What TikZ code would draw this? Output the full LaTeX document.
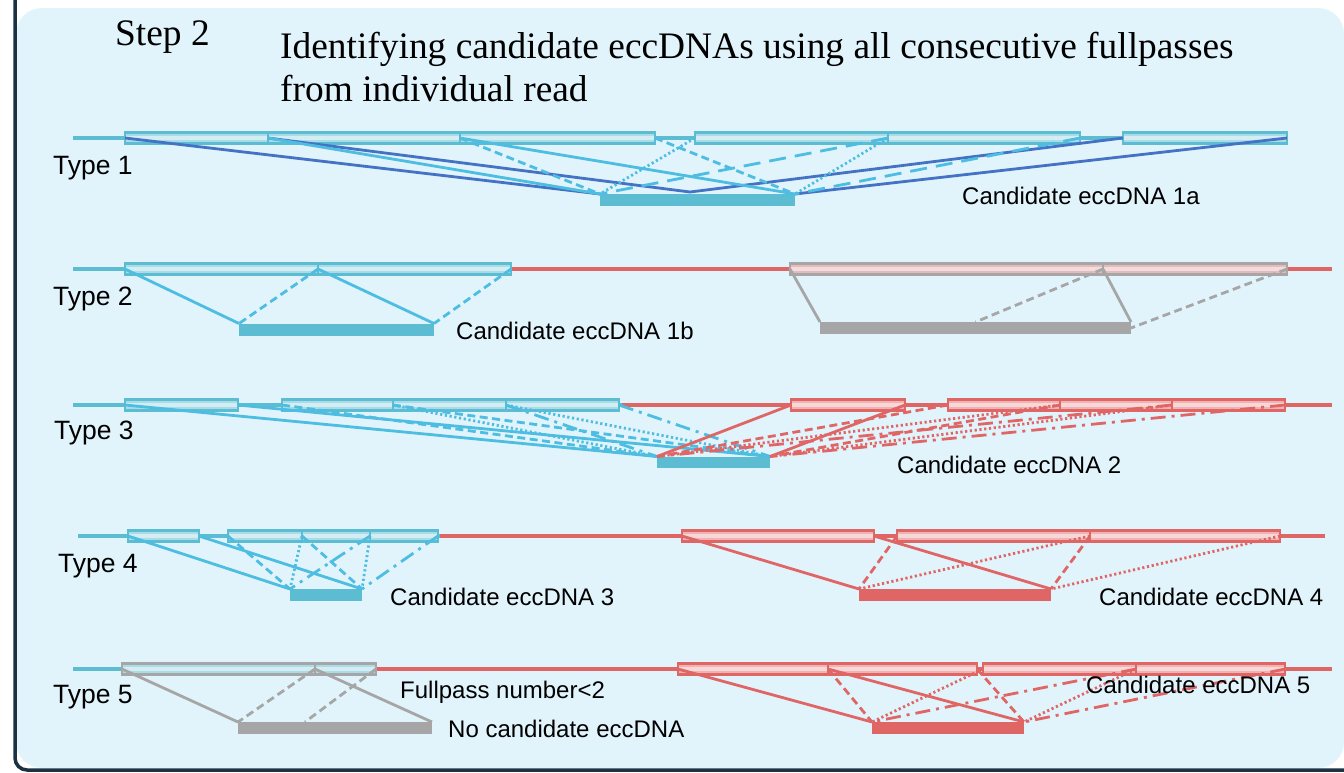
\documentclass[tikz,border=0pt]{standalone}
\usepackage{fontspec}
\setmainfont{Liberation Serif}
\newfontfamily\labelfont{Liberation Sans}
\definecolor{bgblue}{HTML}{E1F4FC}
\definecolor{framec}{HTML}{1C3142}
\definecolor{cyanc}{HTML}{5BBCD2}
\definecolor{cyanl}{HTML}{4DBDE1}
\definecolor{cyanfill}{HTML}{A8DCE8}
\definecolor{redc}{HTML}{E06666}
\definecolor{redfill}{HTML}{F0B2B2}
\definecolor{grayc}{HTML}{A6A6A6}
\definecolor{pinkgray}{HTML}{E6B9BD}
\definecolor{darkblue}{HTML}{4472C4}

\begin{document}
\begin{tikzpicture}[x=1pt,y=-1pt,
  pass/.style 2 args={draw=#1,fill=#2,line width=2.8pt,rectangle,inner sep=0pt,outer sep=0pt,minimum height=11.5pt,
    path picture={\fill[white,opacity=.5] ([yshift=-1.6pt]path picture bounding box.west) rectangle ([yshift=1.6pt]path picture bounding box.east);}},
  bar/.style={fill=#1,rectangle,inner sep=0pt,outer sep=0pt,minimum height=12pt},
  link/.style={line width=2.8pt},
  fpdash/.style={dash pattern=on 8pt off 4.5pt},
  fpdot/.style={dash pattern=on 2.2pt off 2.6pt},
  fplong/.style={dash pattern=on 17pt off 9pt},
  fpdashdot/.style={dash pattern=on 15pt off 6pt on 3pt off 6pt},
  backbone/.style={line width=3.2pt},
  typelbl/.style={font=\labelfont\fontsize{26.5}{29}\selectfont,anchor=west,inner sep=0pt},
  lbl/.style={font=\labelfont\fontsize{24}{27}\selectfont,anchor=west,inner sep=0pt}]

\useasboundingbox (0,0) rectangle (1344,772);
\fill[bgblue,rounded corners=26pt] (16,8) rectangle (1344,768);
\draw[framec,line width=3.5pt,rounded corners=12pt] (15,-5) -- (15,770) -- (1350,770);

\node[anchor=base west,inner sep=0pt,font=\fontsize{37.4}{43}\selectfont] (step) at (115,45) {Step 2};
\node[anchor=base west,inner sep=0pt,align=left,font=\fontsize{37.4}{43}\selectfont] (title) at (280,101)
  {Identifying candidate eccDNAs using all consecutive fullpasses\\from individual read};

% backbones
\draw[backbone,cyanc] (73,138) -- (1288,138);
\draw[backbone,cyanc] (73,269) -- (512,269);
\draw[backbone,redc] (512,269) -- (1332,269);
\draw[backbone,cyanc] (73,405) -- (622,405);
\draw[backbone,redc] (622,405) -- (1332,405);
\draw[backbone,cyanc] (78,536) -- (440,536);
\draw[backbone,redc] (440,536) -- (1325,536);
\draw[backbone,cyanc] (73,669) -- (122,669);
\draw[backbone,redc] (376,669) -- (1332,669);

% fullpasses
\foreach \n/\xl/\xr in {t1p1/125/268,t1p2/268/460,t1p3/460/655,t1p4/695/888,t1p5/888/1080,t1p6/1123/1287}
  \node[pass={cyanc}{cyanfill},minimum width=\xr pt-\xl pt] (\n) at ({(\xl+\xr)/2},138) {};
\foreach \n/\xl/\xr in {t2p1/125/318,t2p2/318/511}
  \node[pass={cyanc}{cyanfill},minimum width=\xr pt-\xl pt] (\n) at ({(\xl+\xr)/2},269) {};
\foreach \n/\xl/\xr in {t2g1/790/1103,t2g2/1103/1287}
  \node[pass={grayc}{pinkgray},minimum width=\xr pt-\xl pt] (\n) at ({(\xl+\xr)/2},269) {};
\foreach \n/\xl/\xr in {t3p1/125/238,t3p2/282/393,t3p3/393/506,t3p4/506/619}
  \node[pass={cyanc}{cyanfill},minimum width=\xr pt-\xl pt] (\n) at ({(\xl+\xr)/2},405) {};
\foreach \n/\xl/\xr in {t3r1/791/905,t3r2/948/1060,t3r3/1060/1172,t3r4/1172/1285}
  \node[pass={redc}{redfill},minimum width=\xr pt-\xl pt] (\n) at ({(\xl+\xr)/2},405) {};
\foreach \n/\xl/\xr in {t4p1/128/199,t4p2/228/302,t4p3/302/370,t4p4/370/438}
  \node[pass={cyanc}{cyanfill},minimum width=\xr pt-\xl pt] (\n) at ({(\xl+\xr)/2},536) {};
\foreach \n/\xl/\xr in {t4r1/682/874,t4r2/897/1090,t4r3/1090/1280}
  \node[pass={redc}{redfill},minimum width=\xr pt-\xl pt] (\n) at ({(\xl+\xr)/2},536) {};
\foreach \n/\xl/\xr in {t5g1/122/315,t5g2/315/376}
  \node[pass={grayc}{cyanfill},minimum width=\xr pt-\xl pt] (\n) at ({(\xl+\xr)/2},669) {};
\foreach \n/\xl/\xr in {t5r1/678/828,t5r2/828/977,t5r3/983/1136,t5r4/1136/1285}
  \node[pass={redc}{redfill},minimum width=\xr pt-\xl pt] (\n) at ({(\xl+\xr)/2},669) {};

% candidate eccDNAs
\node[bar=cyanc,minimum width=195pt] (t1bar) at (697.5,200) {};
\node[bar=cyanc,minimum width=195pt] (t2bar) at (336.5,329.5) {};
\node[bar=grayc,minimum width=311pt] (t2gbar) at (975.5,328) {};
\node[bar=cyanc,minimum width=113pt,minimum height=11pt] (t3bar) at (713.5,462) {};
\node[bar=cyanc,minimum width=72pt] (t4bar) at (326,595) {};
\node[bar=redc,minimum width=192pt] (t4rbar) at (955,595) {};
\node[bar=grayc,minimum width=194pt] (t5gbar) at (335,728) {};
\node[bar=redc,minimum width=152pt] (t5rbar) at (948,728) {};
\coordinate (t1v) at (690,192);
\coordinate (t5gmid) at (305,722);

% type 1
\draw[link,darkblue] (t1p1.west) -- (t1bar.north west) (t1p2.west) -- (t1v) -- (t1p6.west) (t1bar.north east) -- (t1p6.east);
\draw[link,cyanl] (t1p2.west) -- (t1bar.north west) (t1p2.east) -- (t1bar.north east);
\draw[link,cyanl,fpdash] (t1p3.west) -- (t1bar.north west) (t1p3.east) -- (t1bar.north east);
\draw[link,cyanl,fpdot] (t1p4.west) -- (t1bar.north west) (t1p4.east) -- (t1bar.north east);
\draw[link,cyanl,fplong] (t1p5.west) -- (t1bar.north west) (t1p5.east) -- (t1bar.north east);

% type 2
\draw[link,cyanl] (t2p1.west) -- (t2bar.north west) (t2p1.east) -- (t2bar.north east);
\draw[link,cyanl,fpdash] (t2p2.west) -- (t2bar.north west) (t2p2.east) -- (t2bar.north east);
\draw[link,grayc] (t2g1.west) -- (t2gbar.north west) (t2g1.east) -- (t2gbar.north east);
\draw[link,grayc,fpdash] (t2g2.west) -- (t2gbar.north) (t2g2.east) -- (t2gbar.east);

% type 3
\draw[link,cyanl] (t3p1.west) -- (t3bar.north west) (t3p1.east) -- (t3bar.north east);
\draw[link,cyanl,fpdash] (t3p2.west) -- (t3bar.north west) (t3p2.east) -- (t3bar.north east);
\draw[link,cyanl,fpdot] (t3p3.west) -- (t3bar.north west) (t3p3.east) -- (t3bar.north east);
\draw[link,cyanl,fpdashdot] (t3p4.west) -- (t3bar.north west) (t3p4.east) -- (t3bar.north east);
\draw[link,redc] (t3r1.west) -- (t3bar.north west) (t3r1.east) -- (t3bar.north east);
\draw[link,redc,fpdash] (t3r2.west) -- (t3bar.north west) (t3r2.east) -- (t3bar.north east);
\draw[link,redc,fpdot] (t3r3.west) -- (t3bar.north west) (t3r3.east) -- (t3bar.north east);
\draw[link,redc,fpdashdot] (t3r4.west) -- (t3bar.north west) (t3r4.east) -- (t3bar.north east);

% type 4
\draw[link,cyanl] (t4p1.west) -- (t4bar.north west) (t4p1.east) -- (t4bar.north east);
\draw[link,cyanl,fpdash] (t4p2.west) -- (t4bar.north west) (t4p2.east) -- (t4bar.north east);
\draw[link,cyanl,fpdot] (t4p3.west) -- (t4bar.north west) (t4p3.east) -- (t4bar.north east);
\draw[link,cyanl,fpdashdot] (t4p4.west) -- (t4bar.north west) (t4p4.east) -- (t4bar.north east);
\draw[link,redc] (t4r1.west) -- (t4rbar.north west) (t4r1.east) -- (t4rbar.north east);
\draw[link,redc,fpdash] (t4r2.west) -- (t4rbar.north west) (t4r2.east) -- (t4rbar.north east);
\draw[link,redc,fpdot] (t4r3.west) -- (t4rbar.north west) (t4r3.east) -- (t4rbar.north east);

% type 5
\draw[link,grayc] (t5g1.west) -- (t5gbar.north west) (t5g1.east) -- (t5gbar.north east);
\draw[link,grayc,fpdash] (t5g2.west) -- (t5gbar.north west) (t5g2.east) -- (t5gmid);
\draw[link,redc] (t5r1.west) -- (t5rbar.north west) (t5r1.east) -- (t5rbar.north east);
\draw[link,redc,fpdash] (t5r2.west) -- (t5rbar.north west) (t5r2.east) -- (t5rbar.north east);
\draw[link,redc,fpdot] (t5r3.west) -- (t5rbar.north west) (t5r3.east) -- (t5rbar.north east);
\draw[link,redc,fpdashdot] (t5r4.west) -- (t5rbar.north west) (t5r4.east) -- (t5rbar.north east);

% labels
\node[typelbl] (type1) at (53,168) {Type 1};
\node[typelbl] (type2) at (53,299) {Type 2};
\node[typelbl] (type3) at (54,433) {Type 3};
\node[typelbl] (type4) at (58,566) {Type 4};
\node[typelbl] (type5) at (53,697) {Type 5};
\node[lbl] (c1a) at (962,196) {Candidate eccDNA 1a};
\node[lbl] (c1b) at (456,331) {Candidate eccDNA 1b};
\node[lbl] (c2) at (897,465) {Candidate eccDNA 2};
\node[lbl] (c3) at (390,597) {Candidate eccDNA 3};
\node[lbl] (c4) at (1099,597) {Candidate eccDNA 4};
\node[lbl] (fp) at (400,692) {Fullpass number<2};
\node[lbl] (none) at (448,729) {No candidate eccDNA};
\node[lbl] (c5) at (1086,685) {Candidate eccDNA 5};
\end{tikzpicture}
\end{document}
